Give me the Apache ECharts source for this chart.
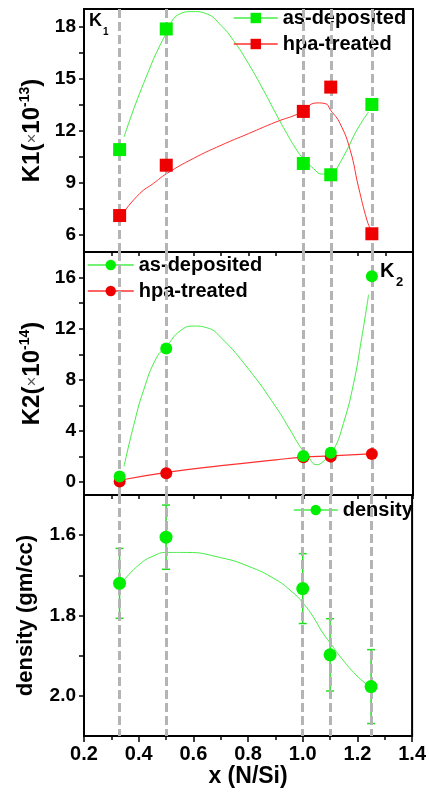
<!DOCTYPE html>
<html>
<head>
<meta charset="utf-8">
<script src="https://cdn.jsdelivr.net/npm/echarts@6/dist/echarts.min.js"></script>
<style>
  html, body { margin: 0; padding: 0; background: #fff; }
  #main { width: 429px; height: 792px; }
</style>
</head>
<body>
<div id="main"></div>
<script>
// composition x (N/Si)
const xs = [0.33, 0.5, 1.0, 1.1, 1.25]

// K1 (x10^-13)
const k1Dep = [10.9, 17.85, 10.1, 9.45, 13.5]
const k1Hpa = [7.1, 10.0, 13.1, 14.5, 6.05]
// fitted curves
const k1DepFit = [[0.346, 11.63], [0.417, 14.7], [0.502, 17.67], [0.55, 18.72], [0.599, 18.85], [0.648, 18.72],
  [0.7, 18.05], [0.745, 17.19], [0.8, 15.85], [0.855, 14.31], [0.9, 12.97], [0.94, 11.82], [0.976, 10.87],
  [0.999, 10.39], [1.037, 9.81], [1.067, 9.49], [1.086, 9.49]]
const k1DepFit2 = [[1.122, 9.81], [1.159, 10.87], [1.195, 12.02], [1.238, 13.07]]
const k1HpaFit = [[0.346, 7.32], [0.404, 8.38], [0.453, 8.95], [0.502, 9.52], [0.599, 10.39], [0.7, 11.15],
  [0.8, 11.82], [0.9, 12.49], [0.988, 13.01], [1.049, 13.59], [1.08, 13.55], [1.1, 13.16], [1.134, 12.4],
  [1.171, 10.87], [1.201, 8.76], [1.232, 6.84], [1.246, 6.27]]

// K2 (x10^-14)
const k2Dep = [0.45, 10.45, 2.05, 2.3, 16.1]
const k2Hpa = [0.05, 0.7, 1.95, 2.0, 2.2]
const k2DepFit = [[0.346, 1.24], [0.38, 4.34], [0.417, 7.17], [0.465, 9.75], [0.502, 10.66], [0.55, 11.82],
  [0.599, 12.21], [0.648, 12.08], [0.7, 11.3], [0.8, 8.85], [0.9, 5.88], [0.952, 4.08], [0.988, 2.79],
  [1.013, 2.14], [1.049, 1.37], [1.073, 1.63], [1.11, 2.53], [1.146, 4.59], [1.183, 7.69], [1.213, 11.3],
  [1.238, 14.66]]
const k2HpaFit = [[0.346, 0.21], [0.502, 0.77], [0.7, 1.29], [0.9, 1.75], [1.0, 1.96], [1.1, 2.06], [1.244, 2.22]]

// density (gm/cc)
const density = [1.72, 1.605, 1.733, 1.898, 1.977]
const densityErr = [0.087, 0.08, 0.087, 0.09, 0.092]
const densityFit = [[0.346, 1.712], [0.404, 1.672], [0.453, 1.652], [0.502, 1.643], [0.575, 1.643],
  [0.7, 1.656], [0.8, 1.677], [0.9, 1.71], [0.964, 1.743], [1.0, 1.768], [1.037, 1.802], [1.073, 1.843],
  [1.1, 1.868], [1.146, 1.91], [1.195, 1.948], [1.244, 1.977]]

// tick labels
const k1Ticks = [6, 9, 12, 15, 18]
const k1Minor = [7.5, 10.5, 13.5, 16.5]
const k2Ticks = [0, 4, 8, 12, 16]
const k2Minor = [2, 6, 10, 14]
const densTicks = [1.6, 1.8, 2.0]
const densMinor = [1.7, 1.9]

const FONT = 'Liberation Sans, Arial, sans-serif'
const GREEN = '#00ee00'
const GREEN_LINE = '#44ee44'
const RED = '#ee0000'
const RED_LINE = '#ff3030'

const pairs = (arr) => xs.map((x, i) => [x, arr[i]])

const vlines = {
  silent: true,
  symbol: ['none', 'none'],
  label: { show: false },
  lineStyle: { color: '#b4b4b4', type: [9, 4], width: 3 },
  data: xs.map(x => ({ xAxis: x }))
}

function xAxisFor(i) {
  return {
    type: 'value', gridIndex: i, min: 0.2, max: 1.4, interval: 0.2,
    axisLine: { show: true, onZero: false, lineStyle: { color: '#000', width: 2 } },
    axisTick: { show: true, inside: false, length: i === 2 ? 6 : 4, lineStyle: { color: '#000', width: 1.5 } },
    minorTick: { show: true, splitNumber: 2, length: 4, lineStyle: { color: '#000', width: 1.5 } },
    splitLine: { show: false },
    axisLabel: {
      show: i === 2, margin: 8, color: '#000', fontFamily: FONT, fontWeight: 'bold', fontSize: 20,
      formatter: v => v.toFixed(1)
    },
    name: i === 2 ? 'x (N/Si)' : '',
    nameLocation: 'middle', nameGap: 25,
    nameTextStyle: { color: '#000', fontFamily: FONT, fontWeight: 'bold', fontSize: 23, lineHeight: 23,
      verticalAlign: 'top' }
  }
}

function nameRich() {
  return {
    a: { fontFamily: FONT, fontWeight: 'bold', fontSize: 24, color: '#000', lineHeight: 28 },
    x: { fontFamily: FONT, fontWeight: 'normal', fontSize: 17, color: '#555', lineHeight: 28 },
    s: { fontFamily: FONT, fontWeight: 'bold', fontSize: 14, color: '#000', verticalAlign: 'top', lineHeight: 14 }
  }
}

function yAxisFor(i, min, max, interval, ticks, minor, name, gap, fmt, inverse, nameSize) {
  return {
    type: 'value', gridIndex: i, min: min, max: max, interval: interval, inverse: !!inverse,
    axisLine: { show: true, onZero: false, lineStyle: { color: '#000', width: 2 } },
    axisTick: { show: true, inside: false, length: 5, customValues: ticks.concat(minor),
      lineStyle: { color: '#000', width: 1.5 } },
    splitLine: { show: false },
    axisLabel: { customValues: ticks, margin: 8, color: '#000', fontFamily: FONT, fontWeight: 'bold', fontSize: 19,
      formatter: fmt },
    name: name, nameLocation: 'middle', nameGap: gap,
    nameTextStyle: { rich: nameRich(), fontFamily: FONT, fontWeight: 'bold', fontSize: nameSize, color: '#000' }
  }
}

const legendText = { color: '#000', fontFamily: FONT, fontWeight: 'bold', fontSize: 20, lineHeight: 20 }
const stripName = name => name.replace(/^K\d /, '')

const chart = echarts.init(document.getElementById('main'), null, { renderer: 'canvas' })

chart.setOption({
  animation: false,
  backgroundColor: '#fff',
  grid: [
    { left: 84, right: 16, top: 9, height: 243, show: true, borderColor: '#000', borderWidth: 2 },
    { left: 84, right: 16, top: 252, height: 243, show: true, borderColor: '#000', borderWidth: 2 },
    { left: 84, right: 16, top: 495, height: 241, show: true, borderColor: '#000', borderWidth: 2 }
  ],
  xAxis: [xAxisFor(0), xAxisFor(1), xAxisFor(2)],
  yAxis: [
    yAxisFor(0, 5, 19, 1, k1Ticks, k1Minor, '{a|K1(}{x|×}{a|10}{s|-13}{a|)}', 38, v => String(v), false, 24),
    yAxisFor(1, -1, 18, 1, k2Ticks, k2Minor, '{a|K2(}{x|×}{a|10}{s|-14}{a|)}', 35, v => String(v), false, 24),
    yAxisFor(2, 1.5, 2.1, 0.1, densTicks, densMinor, 'density (gm/cc)', 47, v => v.toFixed(1), true, 22)
  ],
  legend: [
    { data: ['K1 as-deposited', 'K1 hpa-treated'], orient: 'vertical', left: 233, top: 8, padding: 0,
      itemWidth: 44, itemHeight: 13, itemGap: 6, textStyle: legendText, formatter: stripName,
      lineStyle: { opacity: 1, width: 1.5 }, selectedMode: false },
    { data: ['K2 as-deposited', 'K2 hpa-treated'], orient: 'vertical', left: 87, top: 255, padding: 0,
      itemWidth: 46, itemHeight: 13, itemGap: 6, textStyle: legendText, formatter: stripName,
      lineStyle: { opacity: 1, width: 1.5 }, selectedMode: false },
    { data: ['density'], orient: 'vertical', left: 293, top: 500, padding: 0,
      itemWidth: 44, itemHeight: 13, textStyle: legendText,
      lineStyle: { opacity: 1, width: 1.5 }, selectedMode: false }
  ],
  graphic: [
    { type: 'text', left: 89, top: 12, z: 100, style: { text: 'K', font: 'bold 18px ' + FONT, fill: '#000' } },
    { type: 'text', left: 103, top: 27, z: 100, style: { text: '1', font: 'bold 10px ' + FONT, fill: '#000' } },
    { type: 'text', left: 380, top: 261, z: 100, style: { text: 'K', font: 'bold 20px ' + FONT, fill: '#000' } },
    { type: 'text', left: 396, top: 276, z: 100, style: { text: '2', font: 'bold 13px ' + FONT, fill: '#000' } }
  ],
  series: [
    // panel 1
    { type: 'line', xAxisIndex: 0, yAxisIndex: 0, data: k1DepFit, smooth: true, showSymbol: false, silent: true,
      lineStyle: { color: GREEN_LINE, width: 1 }, markLine: vlines, z: 2 },
    { type: 'line', xAxisIndex: 0, yAxisIndex: 0, data: k1DepFit2, smooth: true, showSymbol: false, silent: true,
      lineStyle: { color: GREEN_LINE, width: 1 }, z: 3 },
    { type: 'line', xAxisIndex: 0, yAxisIndex: 0, data: k1HpaFit, smooth: true, showSymbol: false, silent: true,
      lineStyle: { color: RED_LINE, width: 1 }, z: 3 },
    { name: 'K1 as-deposited', type: 'line', xAxisIndex: 0, yAxisIndex: 0, data: pairs(k1Dep),
      symbol: 'rect', symbolSize: 13, itemStyle: { color: GREEN }, lineStyle: { color: GREEN_LINE, opacity: 0 }, z: 5 },
    { name: 'K1 hpa-treated', type: 'line', xAxisIndex: 0, yAxisIndex: 0, data: pairs(k1Hpa),
      symbol: 'rect', symbolSize: 13, itemStyle: { color: RED }, lineStyle: { color: RED_LINE, opacity: 0 }, z: 5 },
    // panel 2
    { type: 'line', xAxisIndex: 1, yAxisIndex: 1, data: k2DepFit, smooth: true, showSymbol: false, silent: true,
      lineStyle: { color: GREEN_LINE, width: 1 }, markLine: vlines, z: 2 },
    { type: 'line', xAxisIndex: 1, yAxisIndex: 1, data: k2HpaFit, smooth: true, showSymbol: false, silent: true,
      lineStyle: { color: RED_LINE, width: 1.2 }, z: 3 },
    { name: 'K2 as-deposited', type: 'line', xAxisIndex: 1, yAxisIndex: 1, data: pairs(k2Dep),
      symbol: 'circle', symbolSize: 12, itemStyle: { color: GREEN }, lineStyle: { color: GREEN_LINE, opacity: 0 }, z: 6 },
    { name: 'K2 hpa-treated', type: 'line', xAxisIndex: 1, yAxisIndex: 1, data: pairs(k2Hpa),
      symbol: 'circle', symbolSize: 12, itemStyle: { color: RED }, lineStyle: { color: RED_LINE, opacity: 0 }, z: 5 },
    // panel 3
    { type: 'line', xAxisIndex: 2, yAxisIndex: 2, data: densityFit, smooth: true, showSymbol: false, silent: true,
      lineStyle: { color: GREEN_LINE, width: 1 }, markLine: vlines, z: 2 },
    { type: 'custom', xAxisIndex: 2, yAxisIndex: 2, silent: true, z: 4,
      data: xs.map((x, i) => [x, density[i] - densityErr[i], density[i] + densityErr[i]]),
      encode: { x: 0, y: [1, 2] },
      renderItem: function (params, api) {
        const x = api.value(0)
        const p1 = api.coord([x, api.value(1)])
        const p2 = api.coord([x, api.value(2)])
        const w = 4
        const st = { stroke: '#22dd22', lineWidth: 1.5 }
        return {
          type: 'group',
          children: [
            { type: 'line', shape: { x1: p1[0], y1: p1[1], x2: p2[0], y2: p2[1] }, style: st },
            { type: 'line', shape: { x1: p1[0] - w, y1: p1[1], x2: p1[0] + w, y2: p1[1] }, style: st },
            { type: 'line', shape: { x1: p2[0] - w, y1: p2[1], x2: p2[0] + w, y2: p2[1] }, style: st }
          ]
        }
      }
    },
    { name: 'density', type: 'line', xAxisIndex: 2, yAxisIndex: 2, data: pairs(density),
      symbol: 'circle', symbolSize: 13, itemStyle: { color: GREEN }, lineStyle: { color: GREEN_LINE, opacity: 0 }, z: 5 }
  ]
})
</script>
</body>
</html>
